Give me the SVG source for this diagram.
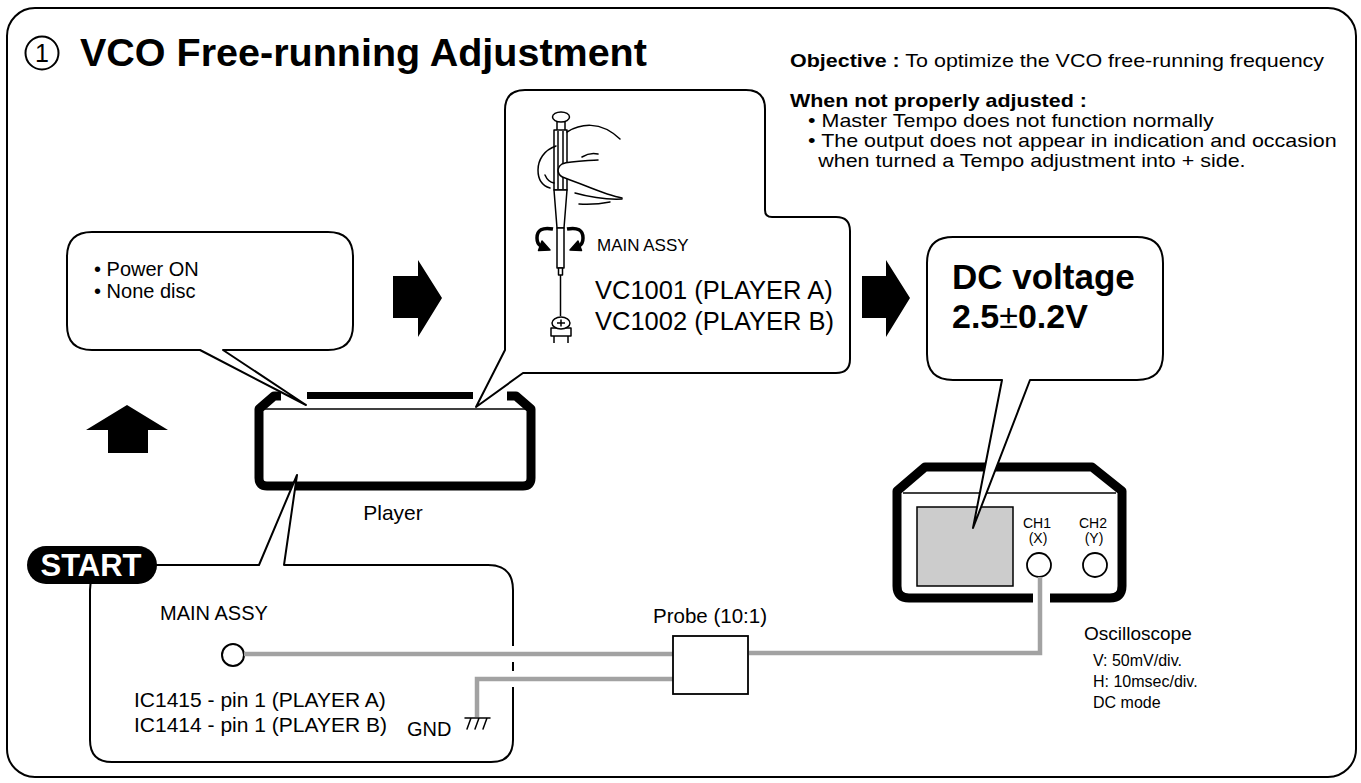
<svg xmlns="http://www.w3.org/2000/svg" width="1361" height="783" viewBox="0 0 1361 783">
<defs>
<style>
text { font-family: "Liberation Sans", Arial, Helvetica, sans-serif; fill: #000; }
.b { font-weight: bold; }
.w { fill: #fff; }
.bubble { fill: #fff; stroke: #000; stroke-width: 2; stroke-linejoin: round; }
.thin { fill: none; stroke: #000; stroke-width: 1.5; stroke-linecap: round; stroke-linejoin: round; }
.heavy { fill: none; stroke: #000; stroke-width: 9; stroke-linejoin: round; }
.blk { fill: #000; }
.jack { fill: #fff; stroke: #000; stroke-width: 1.8; }
.cable { fill: none; stroke: #a2a2a2; stroke-width: 4.5; }
.casing { fill: none; stroke: #fff; stroke-width: 16; }
</style>
</defs>

<rect width="1361" height="783" fill="#fff"/>
<rect id="frame" x="7" y="8" width="1349" height="769" rx="28" fill="none" stroke="#000" stroke-width="2"/>

<!-- heading -->
<g id="title">
  <circle cx="42" cy="53" r="16.5" fill="none" stroke="#000" stroke-width="2"/>
  <text x="42" y="62" font-size="25" text-anchor="middle">1</text>
  <text class="b" x="80" y="66" font-size="39.5">VCO Free-running Adjustment</text>
</g>

<!-- objective notes (set slightly wide) -->
<g id="notes" font-size="19" transform="translate(790 0) scale(1.13 1) translate(-790 0)">
  <text x="790" y="67"><tspan class="b">Objective :</tspan> To optimize the VCO free-running frequency</text>
  <text class="b" x="790" y="107">When not properly adjusted :</text>
  <text x="806" y="127">• Master Tempo does not function normally</text>
  <text x="806" y="147">• The output does not appear in indication and occasion</text>
  <text x="815" y="167">when turned a Tempo adjustment into + side.</text>
</g>

<!-- step arrows -->
<g id="flow-arrows" class="blk">
  <polygon points="393,276 418,276 418,260 442,298 418,337 418,318 393,318"/>
  <polygon points="862,276 886,276 886,260 910,298 886,337 886,318 862,318"/>
  <polygon points="108,453 148,453 148,430 168,430 127,405 86,430 108,430"/>
</g>

<!-- player unit -->
<g id="player">
  <path class="heavy" d="M281 396 H274 L259 409 V478 Q259 486 267 486 H523 Q531 486 531 478 V409 L516 396 H507"/>
  <line x1="263" y1="409" x2="527" y2="409" stroke="#000" stroke-width="1.5"/>
  <rect x="307" y="392" width="166" height="7" fill="#000"/>
  <text x="393" y="520" font-size="21" text-anchor="middle">Player</text>
</g>

<!-- preconditions callout -->
<g id="cond">
  <path class="bubble" d="M92 232 H328 Q353 232 353 257 V325 Q353 350 328 350 H223 L306 405 L200 350 H92 Q67 350 67 325 V257 Q67 232 92 232 Z"/>
  <text x="94" y="276" font-size="20">• Power ON</text>
  <text x="94" y="298" font-size="20">• None disc</text>
</g>

<!-- adjustment callout -->
<g id="adjust">
  <path class="bubble" d="M525 90 H746 Q765 90 765 109 V210 Q765 217 772 217 H836 Q850 217 850 231 V359 Q850 373 836 373 H523 L476 407 L505 350 V110 Q505 90 525 90 Z"/>
  <g id="screwdriver" fill="#fff" stroke="#000" stroke-width="1.5" stroke-linejoin="round">
    <rect x="557" y="121" width="8" height="10"/>
    <ellipse cx="561" cy="117" rx="8.5" ry="5"/>
    <rect x="554" y="130" width="13" height="60"/>
    <line x1="558" y1="131" x2="558" y2="189"/>
    <line x1="563" y1="131" x2="563" y2="189"/>
    <polygon points="554,190 567,190 564,228 557,228"/>
    <rect x="557" y="228" width="7" height="40"/>
    <rect x="558.5" y="268" width="4" height="7"/>
    <line x1="560.5" y1="275" x2="560.5" y2="316"/>
    <!-- hand -->
    <g fill="none" stroke-linecap="round">
      <path d="M567 132 C580 124 600 120 620 139"/>
      <path d="M582 157 Q590 152 598 154"/>
      <path d="M598 160 C585 161 570 161 562 164 C556 168 557 176 565 178 C585 185 605 195 622 198" fill="#fff"/>
      <path d="M556 146 C544 150 538 160 538 170 C538 180 543 186 550 188"/>
      <path d="M545 175 Q548 182 554 183"/>
      <path d="M575 193 Q600 200 622 199"/>
      <path d="M579 204 Q595 205 610 202"/>
    </g>
    <!-- turning arrows -->
    <path d="M553 229 Q537 226 537 238 Q537 244 541 246" fill="none" stroke-width="3.5"/>
    <polygon points="550,250 542,241 538.5,250.5" fill="#000"/>
    <path d="M567 229 Q583 226 583 238 Q583 244 579 246" fill="none" stroke-width="3.5"/>
    <polygon points="570,250 578,241 581.5,250.5" fill="#000"/>
    <!-- trimmer -->
    <rect x="551" y="328" width="20" height="8"/>
    <ellipse cx="561" cy="323" rx="9" ry="6"/>
    <path d="M557 323 H565 M561 319.5 V326.5 M554 336 V343 M568 336 V343" fill="none"/>
  </g>
  <text x="597" y="251" font-size="17">MAIN ASSY</text>
  <text x="595" y="299" font-size="25.5">VC1001 (PLAYER A)</text>
  <text x="595" y="330" font-size="25.5">VC1002 (PLAYER B)</text>
</g>

<!-- oscilloscope -->
<g id="oscilloscope">
  <path class="heavy" stroke-width="10" d="M1033 598 H909 Q897 598 897 586 V491 L925 467 H1092 L1122 491 V586 Q1122 598 1110 598 H1050"/>
  <line x1="903" y1="493" x2="1116" y2="493" stroke="#000" stroke-width="1.5"/>
  <rect x="917" y="507" width="96" height="79" fill="#ccc" stroke="#000" stroke-width="1.5"/>
  <text x="1037" y="528" font-size="14" text-anchor="middle">CH1</text>
  <text x="1038" y="543" font-size="14" text-anchor="middle">(X)</text>
  <text x="1093" y="528" font-size="14" text-anchor="middle">CH2</text>
  <text x="1094" y="543" font-size="14" text-anchor="middle">(Y)</text>
  <circle class="jack" cx="1039" cy="565" r="12"/>
  <circle class="jack" cx="1095" cy="565" r="12"/>
  <text x="1084" y="640" font-size="19">Oscilloscope</text>
  <text x="1093" y="666" font-size="16">V: 50mV/div.</text>
  <text x="1093" y="687" font-size="16">H: 10msec/div.</text>
  <text x="1093" y="708" font-size="16">DC mode</text>
</g>

<!-- expected reading callout -->
<g id="reading">
  <path class="bubble" d="M953 237 H1137 Q1163 237 1163 263 V354 Q1163 380 1137 380 H1030 L973 528 L1002 380 H953 Q927 380 927 354 V263 Q927 237 953 237 Z"/>
  <text class="b" x="952" y="289" font-size="35">DC voltage</text>
  <text class="b" x="952" y="328" font-size="34">2.5<tspan font-weight="normal">±</tspan>0.2V</text>
</g>

<!-- test point callout -->
<g id="start">
  <path class="bubble" d="M120 565 H259 L297 475 L284 565 H488 Q513 565 513 590 V740 Q513 762 491 762 H112 Q90 762 90 740 V590 Q90 565 120 565 Z"/>
  <rect x="27" y="546" width="130" height="38" rx="19" fill="#000"/>
  <text class="b w" x="91" y="576" font-size="31" text-anchor="middle">START</text>
  <text x="160" y="620" font-size="20">MAIN ASSY</text>
  <circle cx="233" cy="655" r="11" fill="#fff" stroke="#000" stroke-width="2"/>
  <text x="134" y="707" font-size="21">IC1415 - pin 1 (PLAYER A)</text>
  <text x="134" y="732" font-size="21">IC1414 - pin 1 (PLAYER B)</text>
  <text x="407" y="736" font-size="20">GND</text>
</g>

<!-- probe leads -->
<g id="connectors">
  <path class="casing" d="M245 654 H673"/>
  <path class="casing" d="M673 679 H477 V717"/>
  <path class="cable" d="M244 654 H673"/>
  <path class="cable" d="M673 679 H477 V717"/>
  <path class="cable" d="M749 653 H1040 V577"/>
  <path class="thin" d="M465 718 H490 M471 718 L467 729 M479 718 L475 729 M487 718 L483 729"/>
</g>

<!-- probe -->
<g id="probe">
  <rect x="673" y="636" width="75" height="58" fill="#fff" stroke="#000" stroke-width="1.8"/>
  <text x="710" y="623" font-size="20.5" text-anchor="middle">Probe (10:1)</text>
</g>
</svg>
